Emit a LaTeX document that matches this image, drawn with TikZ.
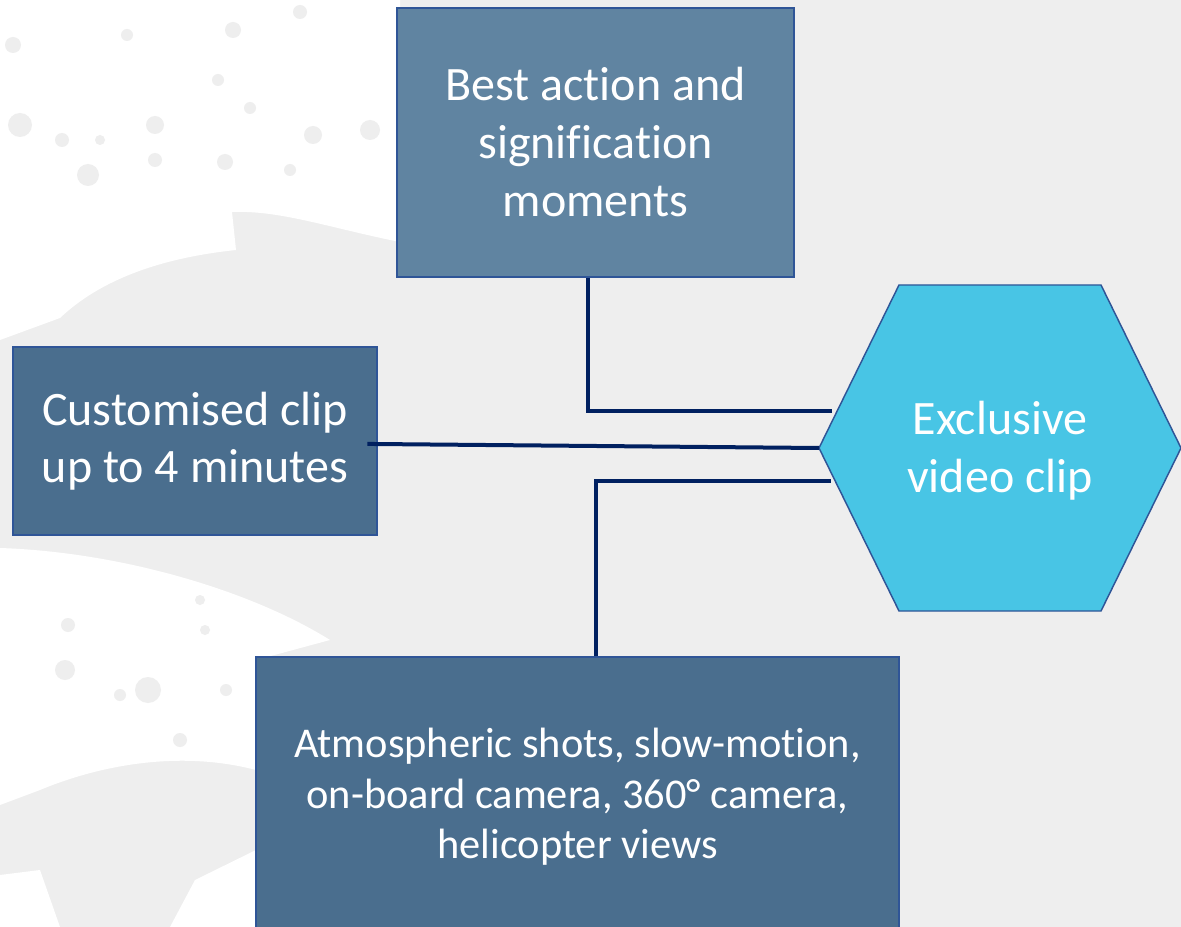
\documentclass[tikz,border=0pt]{standalone}
\usepackage{fontspec}
\setmainfont{Carlito}[Ligatures=NoCommon]
\usetikzlibrary{positioning}

\definecolor{paper}{HTML}{EEEEEE}
\definecolor{topblue}{HTML}{6084A1}
\definecolor{boxblue}{HTML}{4A6E8E}
\definecolor{edgeblue}{HTML}{2F5597}
\definecolor{hexcyan}{HTML}{48C5E5}
\definecolor{navy}{HTML}{002060}

\begin{document}
\begin{tikzpicture}[x=0.75pt, y=-0.75pt, line width=1.5pt,
	box/.style={draw=edgeblue, fill=boxblue, text=white, align=center, inner sep=0pt},
	link/.style={draw=navy, line width=3pt}]
	% background and splatter
	\fill[paper] (0,0) rectangle (1181,927);
	\useasboundingbox (0,0) rectangle (1181,927);
	\fill[white] (0,0) -- (400,0) -- (400,242) .. controls (330,228) and (280,210) .. (232,212) -- (236,250) .. controls (160,258) and (100,280) .. (60,318) -- (0,340) -- cycle;
	\foreach \x/\y/\r in {13/45/8, 127/35/6, 233/30/8, 218/80/6, 300/12/7, 155/125/9, 20/125/12, 155/160/7, 88/175/11, 225/162/8, 250/108/6, 313/135/9, 370/130/10, 100/140/5, 62/140/7, 290/170/6}
		\fill[paper] (\x,\y) circle (\r);
	\fill[white] (0,548) .. controls (120,552) and (250,590) .. (330,640) -- (256,660) -- (256,770) .. controls (180,750) and (100,765) .. (40,790) -- (0,805) -- cycle;
	\fill[white] (0,875) -- (40,870) -- (60,927) -- (0,927) -- cycle;
	\fill[white] (195,880) -- (256,850) -- (256,927) -- (170,927) -- cycle;
	\foreach \x/\y/\r in {68/625/7, 148/690/13, 120/695/6, 205/630/5, 226/690/6, 180/740/7, 65/670/10, 200/600/5}
		\fill[paper] (\x,\y) circle (\r);
	% boxes
	\node[box, fill=topblue, minimum width=297.75pt, minimum height=201.75pt, font=\fontsize{36}{43.5}\selectfont] (best) at (595.5,142.5) {Best action and\\signification\\moments};
	\node[box, minimum width=273pt, minimum height=141pt, font=\fontsize{36}{42.5}\selectfont] (cust) at (195,441) {Customised clip\\up to 4 minutes};
	\node[box, minimum width=482.25pt, minimum height=210pt, font=\fontsize{31.8}{38}\selectfont] (atmo) at (577.5,797) {Atmospheric shots, slow-motion,\\on-board camera, 360° camera,\\helicopter views};
	% hexagon
	\draw[draw=edgeblue, fill=hexcyan, line width=1.1pt] (819,448) coordinate (hl) -- (899,285) -- (1101,285) -- (1181,448) -- (1101,611) -- (899,611) -- cycle;
	\node[text=white, align=center, font=\fontsize{36}{43.5}\selectfont] (clip) at (1000,451) {Exclusive\\video clip};
	\coordinate (tin) at (832,411);
	\coordinate (bin) at (831,481);
	% connectors
	\draw[link] ([xshift=-5.6pt]best.south) |- (tin);
	\draw[link] ([shift={(-8pt,-2.2pt)}]cust.east) -- (hl);
	\draw[link] ([xshift=13.9pt]atmo.north) |- (bin);
\end{tikzpicture}
\end{document}
